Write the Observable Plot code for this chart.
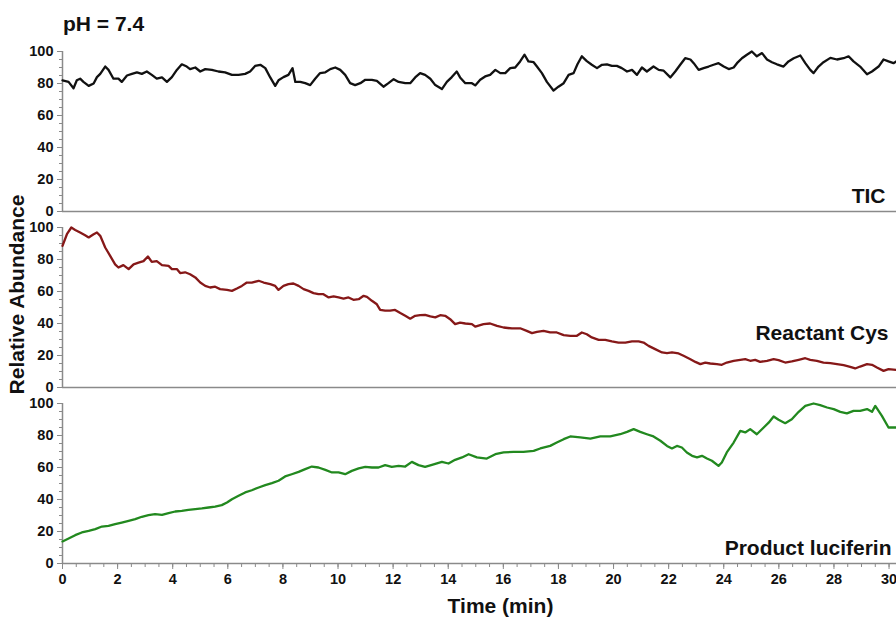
<!DOCTYPE html>
<html>
<head>
<meta charset="utf-8">
<script src="https://cdn.jsdelivr.net/npm/d3@7"></script>
<script src="https://cdn.jsdelivr.net/npm/@observablehq/plot@0.6"></script>
<style>
  html, body { margin: 0; padding: 0; background: #fff; }
  body { position: relative; width: 896px; height: 619px; overflow: hidden; font-family: "Liberation Sans", Arial, sans-serif; }
  #head { position: relative; height: 40px; }
  #title { position: absolute; left: 63px; top: 13px; font-weight: bold; font-size: 21px; line-height: 21px; color: #111; }
</style>
</head>
<body>
<div id="head"><div id="title"></div></div>
<div id="chart"></div>
<script>
const title = "pH = 7.4";
const xLabel = "Time (min)";
const yLabel = "Relative Abundance";
const panels = ["TIC", "Reactant Cys", "Product luciferin"];
const colors = ["#111111", "#861818", "#22891f"];
const xTicks = [0, 2, 4, 6, 8, 10, 12, 14, 16, 18, 20, 22, 24, 26, 28, 30];
const yTicks = [0, 20, 40, 60, 80, 100];

const ticTime = [
  0, 0.22, 0.40, 0.52, 0.64, 0.76, 0.95, 1.13, 1.25, 1.37,
  1.55, 1.67, 1.85, 2.03, 2.15, 2.34, 2.52, 2.70, 2.88, 3.06,
  3.24, 3.42, 3.61, 3.79, 3.97, 4.15, 4.33, 4.51, 4.63, 4.82,
  5.00, 5.18, 5.42, 5.66, 5.90, 6.15, 6.39, 6.63, 6.81, 6.99,
  7.18, 7.36, 7.54, 7.72, 7.84, 8.02, 8.20, 8.35, 8.45, 8.63,
  8.81, 8.99, 9.17, 9.35, 9.54, 9.72, 9.90, 10.08, 10.26, 10.44,
  10.62, 10.81, 10.99, 11.23, 11.41, 11.65, 11.83, 12.02, 12.20, 12.44,
  12.62, 12.80, 12.98, 13.16, 13.35, 13.53, 13.77, 13.95, 14.13, 14.31,
  14.43, 14.62, 14.86, 14.98, 15.16, 15.34, 15.52, 15.71, 15.89, 16.07,
  16.25, 16.43, 16.61, 16.77, 16.91, 17.10, 17.22, 17.40, 17.58, 17.82,
  18.00, 18.19, 18.37, 18.55, 18.69, 18.85, 19.03, 19.21, 19.40, 19.58,
  19.76, 19.94, 20.12, 20.30, 20.49, 20.67, 20.85, 21.03, 21.21, 21.45,
  21.64, 21.82, 22.06, 22.24, 22.42, 22.60, 22.79, 22.91, 23.09, 23.27,
  23.45, 23.63, 23.81, 24.00, 24.18, 24.36, 24.48, 24.66, 24.84, 25.02,
  25.20, 25.39, 25.57, 25.75, 25.93, 26.17, 26.35, 26.54, 26.78, 26.96,
  27.14, 27.26, 27.44, 27.62, 27.87, 28.11, 28.35, 28.53, 28.71, 28.95,
  29.20, 29.38, 29.62, 29.80, 29.98, 30.16, 30.26
];
const ticValue = [
  82, 81, 77, 82, 83, 81, 78.5, 80, 84, 86,
  90.6, 88.5, 83, 83, 81, 85, 86, 87, 86, 87.5,
  85.4, 83, 83.8, 81, 84, 88.5, 92, 90.6, 89, 90,
  87.5, 89, 88.5, 87.5, 87, 85.4, 85.4, 86, 87.5, 91,
  91.7, 89.6, 83.8, 78.5, 82, 84, 85.4, 89.6, 81, 81,
  80.2, 79, 83, 86.5, 87, 89, 90, 88.5, 85.4, 80.2,
  79, 80.2, 82.3, 82.3, 81.7, 78, 80.2, 82.7, 81, 80.2,
  80.2, 83.8, 86.5, 85.4, 83, 79, 76.5, 81, 84, 87.5,
  83.8, 80.2, 80.2, 78.8, 82.3, 84.4, 85.4, 88.5, 86.5, 86.5,
  89.6, 90, 93.8, 98, 93.8, 93.3, 90.6, 86.5, 81, 75.6,
  78, 80.2, 85.4, 86.5, 92, 97, 94, 91.7, 89.6, 91.7,
  92, 91, 91, 89.6, 87.5, 88.5, 85.4, 90, 87.5, 90.6,
  88.5, 88, 83.8, 87.5, 91.7, 95.8, 95, 92.7, 88.5, 89.6,
  90.6, 91.7, 92.7, 90.6, 89, 90, 92.7, 95.8, 98, 100,
  97, 99, 95, 93.3, 92, 90.6, 93.8, 95.8, 97.5, 92.7,
  88.5, 86.5, 90.6, 93.3, 96, 95, 95.8, 97, 93.8, 90.6,
  85.8, 87.5, 90.6, 95, 93.8, 92.7, 93.8
];

const cysTime = [
  0, 0.16, 0.32, 0.46, 0.64, 0.82, 0.95, 1.13, 1.25, 1.37,
  1.55, 1.73, 1.91, 2.03, 2.21, 2.40, 2.58, 2.76, 2.94, 3.10,
  3.24, 3.42, 3.61, 3.85, 3.97, 4.15, 4.27, 4.45, 4.63, 4.82,
  5.00, 5.18, 5.36, 5.54, 5.72, 5.97, 6.15, 6.33, 6.51, 6.69,
  6.87, 7.12, 7.30, 7.54, 7.72, 7.84, 8.02, 8.20, 8.38, 8.57,
  8.75, 8.93, 9.11, 9.29, 9.47, 9.66, 9.84, 10.02, 10.20, 10.38,
  10.56, 10.75, 10.93, 11.05, 11.23, 11.41, 11.53, 11.71, 11.89, 12.07,
  12.26, 12.44, 12.62, 12.80, 12.98, 13.16, 13.35, 13.53, 13.71, 13.89,
  14.07, 14.25, 14.43, 14.62, 14.86, 14.98, 15.28, 15.52, 15.77, 16.01,
  16.31, 16.61, 16.85, 17.04, 17.22, 17.46, 17.70, 17.94, 18.19, 18.43,
  18.67, 18.85, 19.03, 19.21, 19.46, 19.70, 19.94, 20.18, 20.43, 20.67,
  20.91, 21.09, 21.27, 21.51, 21.76, 21.94, 22.12, 22.36, 22.54, 22.79,
  22.97, 23.15, 23.33, 23.51, 23.75, 23.93, 24.11, 24.36, 24.60, 24.78,
  24.96, 25.14, 25.32, 25.57, 25.81, 25.99, 26.23, 26.47, 26.72, 26.96,
  27.14, 27.38, 27.62, 27.87, 28.11, 28.35, 28.59, 28.77, 28.95, 29.20,
  29.38, 29.56, 29.80, 29.98, 30.26
];
const cysValue = [
  88.5, 95.8, 100, 98.5, 96.9, 95.2, 93.8, 95.8, 96.9, 94.8,
  87.5, 82.3, 77, 75, 76.5, 74, 77, 78, 79, 81.9,
  78.5, 79, 76.5, 76, 74, 74, 71.5, 72, 70.8, 68.8,
  65.6, 63.5, 62.5, 63, 61.5, 61, 60.4, 61.9, 63.5, 65.6,
  65.6, 66.7, 65.6, 64.6, 63.5, 61, 63.5, 64.6, 65, 63.5,
  61.5, 60.4, 59, 58.3, 58.3, 56.3, 56.9, 56.3, 55.6, 56.3,
  54.8, 55.2, 57.3, 56.7, 54.2, 52, 48.5, 48, 48, 48.5,
  46.5, 44.8, 43, 44.8, 45.2, 45.4, 44.4, 43.8, 45.2, 44.8,
  42.7, 39.6, 40.6, 40, 39.6, 38, 39.6, 40, 38.5, 37.5,
  36.9, 37, 35.4, 34, 34.8, 35.4, 34.4, 34.4, 32.7, 32.3,
  32.3, 34.4, 33.3, 31.3, 29.8, 29.8, 28.8, 28.1, 28.1, 28.8,
  28.8, 28.1, 26, 24, 21.9, 21.5, 21.9, 21.3, 19.8, 17.7,
  16, 14.6, 15.6, 15, 14.6, 14.2, 15.6, 16.7, 17.3, 17.7,
  16.7, 17.3, 16, 16.7, 17.7, 17.1, 15.6, 16.3, 17.3, 18.3,
  17.3, 16.7, 15.6, 15.2, 14.6, 14, 12.9, 11.9, 13.1, 14.6,
  14.2, 12.5, 10.4, 11.5, 11
];

const lucTime = [
  0, 0.22, 0.46, 0.70, 0.95, 1.19, 1.43, 1.67, 1.91, 2.15,
  2.40, 2.64, 2.88, 3.12, 3.36, 3.61, 3.85, 4.09, 4.33, 4.57,
  4.82, 5.06, 5.30, 5.54, 5.78, 5.97, 6.15, 6.39, 6.63, 6.87,
  7.12, 7.36, 7.60, 7.84, 8.08, 8.32, 8.57, 8.81, 9.05, 9.29,
  9.54, 9.78, 10.02, 10.26, 10.50, 10.75, 10.99, 11.23, 11.47, 11.71,
  11.95, 12.20, 12.44, 12.68, 12.92, 13.16, 13.41, 13.77, 14.01, 14.25,
  14.50, 14.74, 15.04, 15.40, 15.71, 16.01, 16.37, 16.73, 17.10, 17.34,
  17.70, 17.94, 18.19, 18.43, 18.79, 19.16, 19.52, 19.88, 20.24, 20.49,
  20.73, 20.97, 21.21, 21.45, 21.70, 21.94, 22.12, 22.30, 22.48, 22.66,
  22.85, 23.03, 23.21, 23.39, 23.57, 23.81, 23.93, 24.11, 24.36, 24.60,
  24.78, 24.96, 25.20, 25.45, 25.63, 25.81, 25.99, 26.23, 26.47, 26.72,
  26.96, 27.26, 27.50, 27.75, 27.99, 28.23, 28.47, 28.71, 28.95, 29.20,
  29.38, 29.50, 29.74, 29.98, 30.26
];
const lucValue = [
  13.8, 15.6, 17.7, 19.4, 20.4, 21.5, 23.1, 23.5, 24.6, 25.6,
  26.7, 27.7, 29.2, 30.2, 30.8, 30.4, 31.5, 32.5, 32.9, 33.5,
  34, 34.4, 35, 35.6, 36.5, 38.1, 40.2, 42.3, 44.4, 45.8,
  47.5, 49, 50.2, 51.7, 54.4, 55.8, 57.3, 59, 60.6, 60,
  58.5, 56.9, 56.9, 55.8, 57.9, 59.4, 60.4, 60, 60, 61.5,
  60.4, 61, 60.6, 63.5, 61.5, 60.4, 61.7, 63.5, 62.5, 64.8,
  66.3, 68.3, 66.3, 65.6, 68.3, 69.4, 69.8, 69.8, 70.4, 71.9,
  73.5, 75.6, 77.7, 79.4, 78.8, 78.1, 79.4, 79.4, 80.8, 82.3,
  84, 82.3, 80.8, 79.4, 76.7, 73.5, 71.9, 73.5, 72.5, 69.4,
  67.3, 66.3, 67.3, 65.6, 64.2, 61, 63.1, 69.4, 75.6, 82.9,
  81.9, 84, 80.8, 85, 88, 91.9, 89.8, 87.7, 90.2, 94.8,
  98.5, 100, 99, 97.5, 96.5, 94.8, 93.8, 95.4, 95.4, 96.5,
  94.8, 98.5, 92.3, 85, 85
];

document.getElementById("title").textContent = title;

const series = [[ticTime, ticValue], [cysTime, cysValue], [lucTime, lucValue]];
const rows = [];
series.forEach(([T, V], i) => T.forEach((t, j) => rows.push({panel: panels[i], t, v: V[j]})));

const gray = "#8a8a8a";
const chart = Plot.plot({
  width: 896,
  height: 579,
  marginLeft: 62,
  marginRight: 0,
  marginTop: 10,
  marginBottom: 56,
  style: {fontFamily: "'Liberation Sans', Arial, sans-serif", fontWeight: "bold", color: "#111", background: "#fff", overflow: "visible"},
  x: {domain: [0, 30.27]},
  y: {domain: [0, 100]},
  fy: {domain: panels, paddingInner: 0.0935, paddingOuter: 0, axis: null},
  color: {domain: panels, range: colors},
  marks: [
    Plot.ruleY([0], {stroke: gray, strokeWidth: 1.5}),
    Plot.ruleX([0], {y1: 0, y2: 100, stroke: gray, strokeWidth: 1.5}),
    Plot.axisY(d3.range(0, 101, 5), {tickSize: 3, text: null, stroke: gray, label: null}),
    Plot.axisY(yTicks, {tickSize: 5, tickPadding: 4, fontSize: 14.5, stroke: gray, fill: "#111", label: null}),
    Plot.axisX(d3.range(0, 30.01, 0.5), {tickSize: 4, text: null, stroke: gray, label: null, facetAnchor: "bottom"}),
    Plot.axisX(xTicks, {tickSize: 6, tickPadding: 4, fontSize: 14.5, stroke: gray, fill: "#111", label: null, facetAnchor: "bottom"}),
    Plot.lineY(rows, {x: "t", y: "v", fy: "panel", stroke: "panel", strokeWidth: 2.3, strokeLinejoin: "round"}),
    Plot.text([panels[0]], {fy: [panels[0]], text: d => d, frameAnchor: "bottom-right", dx: -11, dy: -9, fontSize: 21, fill: "#111"}),
    Plot.text([panels[1]], {fy: [panels[1]], text: d => d, frameAnchor: "bottom-right", dx: -8, dy: -48, fontSize: 21, fill: "#111"}),
    Plot.text([panels[2]], {fy: [panels[2]], text: d => d, frameAnchor: "bottom-right", dx: -5, dy: -9, fontSize: 21, fill: "#111"}),
    Plot.text([yLabel], {fy: [panels[1]], text: d => d, frameAnchor: "left", textAnchor: "middle", lineAnchor: "middle", rotate: -90, dx: -45, dy: -13, fontSize: 21, fill: "#111"}),
    Plot.text([xLabel], {fy: [panels[2]], text: d => d, frameAnchor: "bottom", dx: 21, dy: 49, fontSize: 21, fill: "#111"})
  ]
});
document.getElementById("chart").appendChild(chart);
</script>
</body>
</html>
